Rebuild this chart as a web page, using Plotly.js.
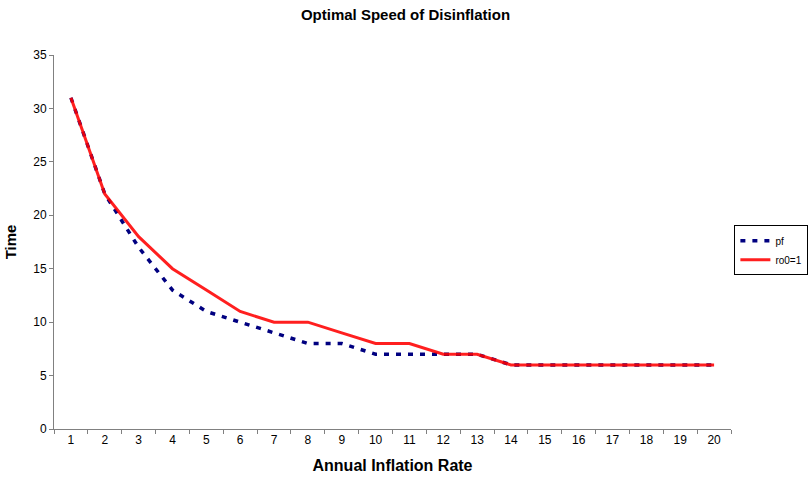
<!DOCTYPE html>
<html>
<head>
<meta charset="utf-8">
<script src="https://cdn.plot.ly/plotly-3.0.1.min.js"></script>
<style>html,body{margin:0;padding:0;background:#fff;}#chart{width:811px;height:484px;}</style>
</head>
<body>
<div id="chart"></div>
<script>
const categories = ['1','2','3','4','5','6','7','8','9','10','11','12','13','14','15','16','17','18','19','20'];
const pfValues = [31,22,17,13,11,10,9,8,8,7,7,7,7,6,6,6,6,6,6,6];
const ro0Values = [31,22,18,15,13,11,10,10,9,8,8,7,7,6,6,6,6,6,6,6];
const seriesNames = ['pf','ro0=1'];
const yTicks = [0,5,10,15,20,25,30,35];

const font = 'Liberation Sans, Arial, sans-serif';

const traces = [
  {x: categories, y: pfValues, name: seriesNames[0], type: 'scatter', mode: 'lines',
   line: {color: '#000080', width: 3.5, dash: '5px,7px'}},
  {x: categories, y: ro0Values, name: seriesNames[1], type: 'scatter', mode: 'lines',
   line: {color: '#FF0000', width: 3}, opacity: 0.88}
];

const layout = {
  width: 811, height: 484,
  margin: {l: 54, r: 80, t: 55, b: 55, autoexpand: false},
  paper_bgcolor: '#fff', plot_bgcolor: '#fff',
  font: {family: font, size: 11, color: '#000'},
  title: {text: '<b>Optimal Speed of Disinflation</b>', font: {family: font, size: 15, color: '#000'},
          x: 0.5, xanchor: 'center', y: 0.97, yanchor: 'middle'},
  showlegend: true,
  legend: {x: 1.005, xanchor: 'left', y: 0.545, yanchor: 'top', bordercolor: '#000', borderwidth: 1,
           bgcolor: '#fff', font: {family: font, size: 10, color: '#000'}, tracegroupgap: 0,
           itemwidth: 30},
  xaxis: {type: 'category', range: [-0.5, 19.5], tickson: 'boundaries', ticks: 'outside', ticklen: 4,
          tickcolor: '#808080', showline: true, linecolor: '#808080', linewidth: 1, showgrid: false,
          zeroline: false, tickfont: {family: font, size: 12, color: '#000'},
          title: {text: '<b>Annual Inflation Rate</b>', font: {family: font, size: 16, color: '#000'}, standoff: 13}},
  yaxis: {range: [0, 35], tickvals: yTicks, ticks: 'outside', ticklen: 4, tickcolor: '#808080',
          showline: true, linecolor: '#808080', linewidth: 1, showgrid: false, zeroline: false,
          tickfont: {family: font, size: 12, color: '#000'},
          title: {text: '<b>Time</b>', font: {family: font, size: 15, color: '#000'}, standoff: 12}}
};

Plotly.newPlot('chart', traces, layout, {displayModeBar: false, staticPlot: true});
</script>
</body>
</html>
